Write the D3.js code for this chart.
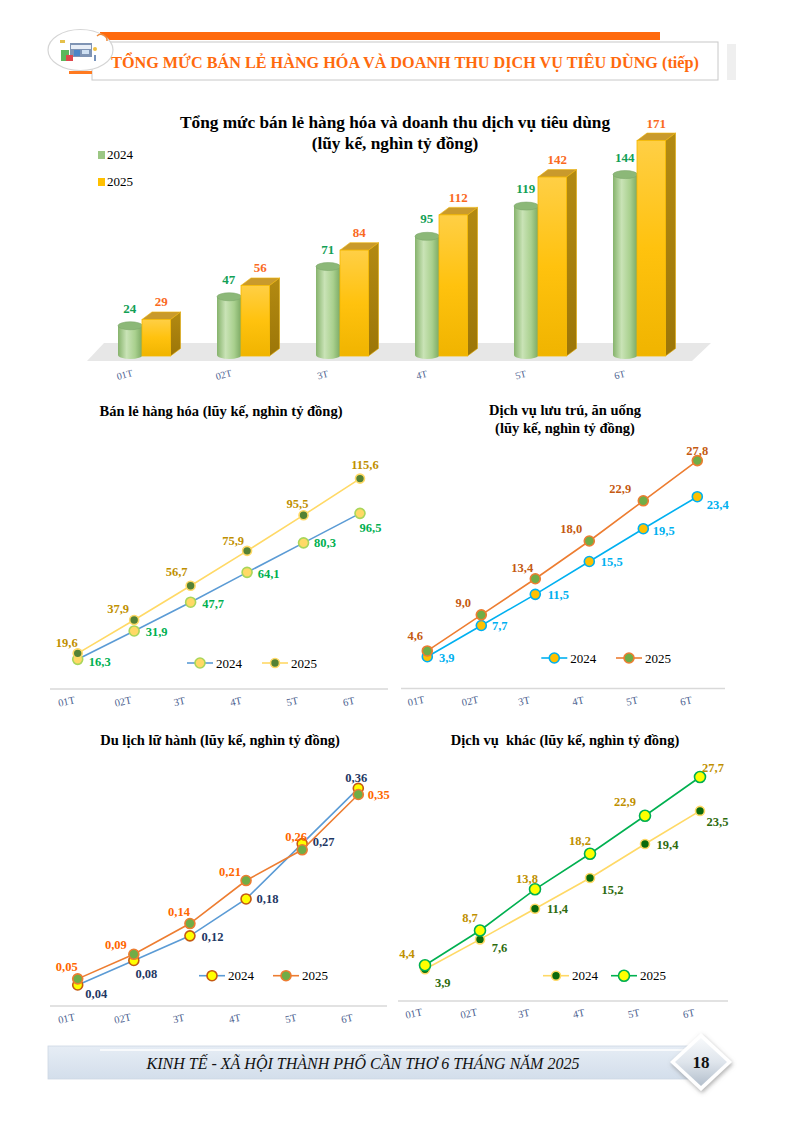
<!DOCTYPE html>
<html><head><meta charset="utf-8">
<script src="https://cdn.jsdelivr.net/npm/d3@7"></script>
<style>
body{margin:0;background:#fff}
svg{display:block}
text{font-family:"Liberation Serif","Times New Roman",serif}
</style></head>
<body><svg id="c" width="794" height="1122"></svg>
<script>
// ---------- DATA ----------
const months = ["01T","02T","3T","4T","5T","6T"];
const seriesNames = ["2024","2025"];
const total2024 = [24,47,71,95,119,144];
const total2025 = [29,56,84,112,142,171];
const retail2024 = [16.3,31.9,47.7,64.1,80.3,96.5];
const retail2025 = [19.6,37.9,56.7,75.9,95.5,115.6];
const accom2024 = [3.9,7.7,11.5,15.5,19.5,23.4];
const accom2025 = [4.6,9.0,13.4,18.0,22.9,27.8];
const travel2024 = [0.04,0.08,0.12,0.18,0.27,0.36];
const travel2025 = [0.05,0.09,0.14,0.21,0.26,0.35];
const other2024 = [3.9,7.6,11.4,15.2,19.4,23.5];
const other2025 = [4.4,8.7,13.8,18.2,22.9,27.7];
const headerTitle = "TỔNG MỨC BÁN LẺ HÀNG HÓA VÀ DOANH THU DỊCH VỤ TIÊU DÙNG (tiếp)";
const barTitle = ["Tổng mức bán lẻ hàng hóa và doanh thu dịch vụ tiêu dùng","(lũy kế, nghìn tỷ đồng)"];
const footerText = "KINH TẾ - XÃ HỘI THÀNH PHỐ CẦN THƠ 6 THÁNG NĂM 2025";
const pageNumber = "18";

// ---------- SETUP ----------
const SERIF = '"Liberation Serif","Times New Roman",serif';
const svg = d3.select("#c");
const defs = svg.append("defs");
const loc = d3.formatLocale({decimal:",",thousands:".",grouping:[3],currency:["",""]});
const f1 = loc.format(".1f"), f2 = loc.format(".2f"), f0 = d3.format("d");

function grad(id, stops, x2, y2){
  const g = defs.append("linearGradient").attr("id",id).attr("x1",0).attr("y1",0).attr("x2",x2).attr("y2",y2);
  stops.forEach(s=>g.append("stop").attr("offset",s[0]).attr("stop-color",s[1]));
}
grad("gCyl",[[0,"#86b36c"],[0.35,"#c9e3b6"],[0.7,"#a9d08e"],[1,"#7aa862"]],1,0);
grad("gFront",[[0,"#ffcf45"],[0.5,"#ffc20e"],[1,"#f0b400"]],0,1);
grad("gSide",[[0,"#b38a12"],[1,"#9c7608"]],0,1);
grad("gFooter",[[0,"#e6edf5"],[1,"#d3deeb"]],0,1);
grad("gDiamond",[[0,"#f7f9fb"],[0.5,"#dfe5ec"],[1,"#b3bfcc"]],0,1);
const sh = defs.append("filter").attr("id","shadow").attr("x","-30%").attr("y","-30%").attr("width","160%").attr("height","160%");
sh.append("feDropShadow").attr("dx",1).attr("dy",2).attr("stdDeviation",2).attr("flood-color","#777").attr("flood-opacity",0.6);

// ---------- HEADER ----------
svg.append("rect").attr("x",100).attr("y",32).attr("width",560).attr("height",8).attr("fill","#ff6a0d");
svg.append("rect").attr("x",727).attr("y",44).attr("width",9).attr("height",36).attr("fill","#efefef");
svg.append("rect").attr("x",92).attr("y",42).attr("width",626).attr("height",38).attr("fill","#fff").attr("stroke","#c8c8c8").attr("stroke-width",1);
svg.append("rect").attr("x",69).attr("y",71).attr("width",23).attr("height",3).attr("fill","#ff7a20");
// logo
const logo = svg.append("g");
logo.append("ellipse").attr("cx",80.5).attr("cy",50).attr("rx",32.5).attr("ry",20.5).attr("fill","#fff").attr("stroke","#d5d5d5").attr("stroke-width",1.2);
logo.append("rect").attr("x",70).attr("y",43).attr("width",22).attr("height",14).attr("fill","#7f94b4");
logo.append("rect").attr("x",71).attr("y",45).attr("width",20).attr("height",4).attr("fill","#e8eef7");
logo.append("rect").attr("x",74).attr("y",50).attr("width",6).attr("height",6).attr("fill","#4a86c8");
logo.append("rect").attr("x",82).attr("y",50).attr("width",7).attr("height",4).attr("fill","#cfe0f2");
logo.append("rect").attr("x",61).attr("y",50).attr("width",8).attr("height",11).attr("fill","#5cb85c");
logo.append("rect").attr("x",66).attr("y",55).attr("width",7).attr("height",6).attr("fill","#e0474c");
logo.append("rect").attr("x",60).attr("y",40).attr("width",5).attr("height",3).attr("fill","#e5c04a");
logo.append("circle").attr("cx",95).attr("cy",49).attr("r",2).attr("fill","#f0c040");
logo.append("path").attr("d","M97,36 A6,6 0 0 1 107,41").attr("fill","none").attr("stroke","#f08a3a").attr("stroke-width",1.5);
logo.append("line").attr("x1",95).attr("y1",55).attr("x2",95).attr("y2",61).attr("stroke","#4a6fa5").attr("stroke-width",1.5);
svg.append("text").attr("x",405).attr("y",68).attr("text-anchor","middle").attr("fill","#ff6a0d")
  .style("font-size","16.2px").style("font-weight","bold").text(headerTitle);

// ---------- 3D BAR CHART ----------
(function(){
  const g = svg.append("g");
  const x = d3.scaleBand().domain(months).range([100,694]);
  const y = d3.scaleLinear().domain([0,180]).range([356,356-180*1.26]);
  const dx = 10, dy = 7.5, base = y(0);
  g.append("polygon").attr("points",[[87,361],[692,361],[711,343],[104,343]].join(" ")).attr("fill","#e7e7e7");
  months.forEach((m,i)=>{
    const b = x(m);
    const gx = b+18, gw = 24.5, gt = y(total2024[i]);
    g.append("ellipse").attr("cx",gx+gw/2).attr("cy",base-1).attr("rx",gw/2).attr("ry",4).attr("fill","url(#gCyl)");
    g.append("rect").attr("x",gx).attr("y",gt).attr("width",gw).attr("height",base-1-gt).attr("fill","url(#gCyl)");
    g.append("ellipse").attr("cx",gx+gw/2).attr("cy",gt).attr("rx",gw/2).attr("ry",4).attr("fill","#8cb878").attr("stroke","#7ea86b").attr("stroke-width",0.6);
    const ox = b+42, ow = 28.5, ot = y(total2025[i]);
    g.append("polygon").attr("points",[[ox+ow,ot],[ox+ow+dx,ot-dy],[ox+ow+dx,base-dy],[ox+ow,base]].join(" ")).attr("fill","url(#gSide)").attr("stroke","#e0a800").attr("stroke-width",0.6);
    g.append("polygon").attr("points",[[ox,ot],[ox+dx,ot-dy],[ox+ow+dx,ot-dy],[ox+ow,ot]].join(" ")).attr("fill","#c99a2c").attr("stroke","#f0b400").attr("stroke-width",0.6);
    g.append("rect").attr("x",ox).attr("y",ot).attr("width",ow).attr("height",base-ot).attr("fill","url(#gFront)").attr("stroke","#f5b800").attr("stroke-width",0.8);
    g.append("text").attr("x",gx+gw/2-0.5).attr("y",gt-13).attr("text-anchor","middle").attr("fill","#12a055")
      .style("font-size","13px").style("font-weight","bold").text(f0(total2024[i]));
    g.append("text").attr("x",ox+(ow+dx)/2).attr("y",ot-13).attr("text-anchor","middle").attr("fill","#fa6a1e")
      .style("font-size","13px").style("font-weight","bold").text(f0(total2025[i]));
  });
  const ax = g.append("g").attr("transform",`translate(0,361)`).call(d3.axisBottom(x).tickSize(0));
  ax.select(".domain").remove();
  ax.selectAll("text").attr("y",0).attr("dy",0).attr("transform","translate(-24,17) rotate(-15)")
    .attr("text-anchor","middle").attr("fill","#4d5f90").style("font-size","10px").style("font-family",SERIF);
  barTitle.forEach((t,i)=>g.append("text").attr("x",395).attr("y",128+i*21).attr("text-anchor","middle")
    .style("font-size","17.3px").style("font-weight","bold").attr("fill","#000").text(t));
  seriesNames.forEach((s,i)=>{
    g.append("rect").attr("x",98).attr("y",151+i*27).attr("width",7).attr("height",8).attr("fill",i?"#ffc000":"#9cc784");
    g.append("text").attr("x",107).attr("y",159+i*27).style("font-size","13px").attr("fill","#000").text(s);
  });
})();

// ---------- LINE CHARTS ----------
function lineChart(cfg){
  const g = svg.append("g");
  const x = d3.scalePoint().domain(months).range(cfg.xRange);
  const y = d3.scaleLinear().domain(cfg.yDomain).range(cfg.yRange);
  g.append("line").attr("x1",cfg.axisX[0]).attr("x2",cfg.axisX[1]).attr("y1",cfg.axisY).attr("y2",cfg.axisY)
    .attr("stroke","#d9d9d9").attr("stroke-width",1.3);
  const ax = g.append("g").attr("transform",`translate(0,${cfg.axisY})`).call(d3.axisBottom(x).tickSize(0));
  ax.select(".domain").remove();
  ax.selectAll("text").attr("y",0).attr("dy",0).attr("transform","translate(-11,16) rotate(-12)")
    .attr("text-anchor","middle").attr("fill","#4d5f90").style("font-size","10.5px").style("font-family",SERIF);
  cfg.title.forEach((t,i)=>g.append("text").attr("x",cfg.titleX).attr("y",cfg.titleY+i*18).attr("text-anchor","middle")
    .style("font-size","14.5px").style("font-weight","bold").style("white-space","pre").attr("fill","#000").text(t));
  const line = d3.line().x((d,i)=>x(months[i])).y(d=>y(d));
  cfg.series.forEach(s=>{
    g.append("path").datum(s.values).attr("d",line).attr("fill","none").attr("stroke",s.line).attr("stroke-width",1.6);
    g.selectAll(null).data(s.values).enter().append("circle")
      .attr("cx",(d,i)=>x(months[i])).attr("cy",d=>y(d)).attr("r",s.r)
      .attr("fill",s.fill).attr("stroke",s.stroke).attr("stroke-width",1.6);
  });
  cfg.series.forEach(s=>{
    g.selectAll(null).data(s.values).enter().append("text")
      .attr("x",(d,i)=>x(months[i])+s.ldx[i]).attr("y",(d,i)=>y(d)+s.ldy[i]+4.5)
      .attr("text-anchor","middle").attr("fill",s.label)
      .style("font-size","12.5px").style("font-weight","bold").text(d=>cfg.fmt(d));
  });
  cfg.series.forEach((s,k)=>{
    const lx = cfg.legend[k], ly = cfg.legendY;
    g.append("line").attr("x1",lx-13).attr("x2",lx+13).attr("y1",ly).attr("y2",ly).attr("stroke",s.line).attr("stroke-width",1.6);
    g.append("circle").attr("cx",lx).attr("cy",ly).attr("r",s.r).attr("fill",s.fill).attr("stroke",s.stroke).attr("stroke-width",1.6);
    g.append("text").attr("x",lx+16).attr("y",ly+4.5).style("font-size","13px").attr("fill","#000").text(seriesNames[k]);
  });
}

lineChart({
  xRange:[77.7,360], yDomain:[0,140], yRange:[689,689-140*1.82],
  axisX:[50,388], axisY:689, title:["Bán lẻ hàng hóa (lũy kế, nghìn tỷ đồng)"], titleX:221, titleY:416,
  fmt:f1, legend:[200,275], legendY:663,
  series:[
    {values:retail2024, line:"#5b9bd5", fill:"#ffd966", stroke:"#a9d65a", r:5, label:"#00b050",
     ldx:[22,22.5,22.5,21.5,21.5,10.5], ldy:[2,1,1,1,0,14]},
    {values:retail2025, line:"#ffd966", fill:"#548235", stroke:"#ffd966", r:4.5, label:"#bf9000",
     ldx:[-11,-16,-14,-14,-6,5], ldy:[-11,-12,-14,-10,-12,-14]}
  ]
});
lineChart({
  xRange:[427.3,697.3], yDomain:[0,30], yRange:[688.7,688.7-30*8.205],
  axisX:[401,725], axisY:688.5, title:["Dịch vụ lưu trú, ăn uống","(lũy kế, nghìn tỷ đồng)"], titleX:565, titleY:415,
  fmt:f1, legend:[554.3,629], legendY:658,
  series:[
    {values:accom2024, line:"#00b0f0", fill:"#ffc000", stroke:"#00b0f0", r:5, label:"#00b0f0",
     ldx:[19.5,18.5,23,22.5,20.5,20.5], ldy:[1,0,0,0,2,8]},
    {values:accom2025, line:"#ed7d31", fill:"#70ad47", stroke:"#ed7d31", r:5, label:"#c55a11",
     ldx:[-12,-18,-13,-18,-23,0], ldy:[-15,-12,-11,-13,-12,-10]}
  ]
});
lineChart({
  xRange:[77.7,358.3], yDomain:[0,0.4], yRange:[1009.6,1009.6-0.4*614.6],
  axisX:[50,387], axisY:1006, title:["Du lịch lữ hành (lũy kế, nghìn tỷ đồng)"], titleX:220, titleY:745,
  fmt:f2, legend:[212,286], legendY:975.7,
  series:[
    {values:travel2024, line:"#5b9bd5", fill:"#ffff00", stroke:"#c55a11", r:5, label:"#1f3864",
     ldx:[18.5,12.5,22.5,21.5,21.5,-2], ldy:[8,13,1,0,-2,-11]},
    {values:travel2025, line:"#ed7d31", fill:"#70ad47", stroke:"#ed7d31", r:5, label:"#ff6600",
     ldx:[-11,-18,-11,-16,-6,20.5], ldy:[-12,-10,-12,-9,-13,0]}
  ]
});
lineChart({
  xRange:[425,700], yDomain:[0,30], yRange:[1000.8,1000.8-30*8.08],
  axisX:[398,728], axisY:1001, title:["Dịch vụ  khác (lũy kế, nghìn tỷ đồng)"], titleX:565, titleY:745,
  fmt:f1, legend:[556,624], legendY:975.7,
  series:[
    {values:other2024, line:"#ffd966", fill:"#0b6a0b", stroke:"#ffd966", r:4.5, label:"#2e6b0e",
     ldx:[17.7,19.5,22.5,22.5,22.5,17.5], ldy:[13,8,0,12,0,11]},
    {values:other2025, line:"#00b050", fill:"#ffff00", stroke:"#00b050", r:5.5, label:"#bf9000",
     ldx:[-18,-10,-8,-10,-20,13], ldy:[-12,-13,-11,-13,-14,-9]}
  ]
});

// ---------- FOOTER ----------
svg.append("rect").attr("x",48).attr("y",1046).attr("width",642).attr("height",33).attr("fill","url(#gFooter)").attr("stroke","#cdd7e3").attr("stroke-width",0.8);
svg.append("line").attr("x1",100).attr("x2",688).attr("y1",1050).attr("y2",1050).attr("stroke","#fff").attr("stroke-width",1.5);
svg.append("text").attr("x",363).attr("y",1069).attr("text-anchor","middle").style("font-size","16px").style("font-style","italic").attr("fill","#111").text(footerText);
const dia = svg.append("g").attr("transform","translate(701,1062)");
dia.append("polygon").attr("points","0,-29 31,0 0,29 -31,0").attr("fill","#fff").attr("filter","url(#shadow)");
dia.append("polygon").attr("points","0,-24 26,0 0,24 -26,0").attr("fill","url(#gDiamond)");
dia.append("text").attr("x",0).attr("y",6).attr("text-anchor","middle").style("font-size","17px").style("font-weight","bold").attr("fill","#111").text(pageNumber);
</script>
</body></html>
